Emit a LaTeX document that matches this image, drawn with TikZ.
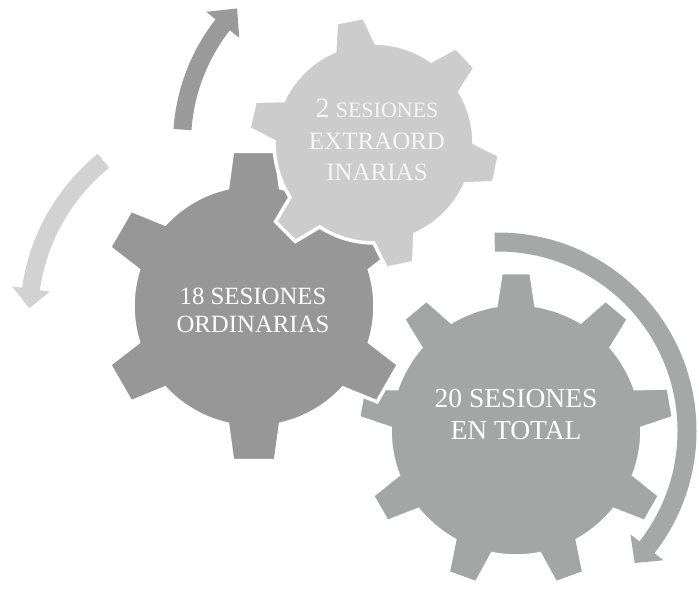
\documentclass[tikz,border=0pt]{standalone}
\usepackage{fontspec}
\setmainfont{Liberation Serif}
\definecolor{bigc}{RGB}{164,166,166}
\definecolor{darkc}{RGB}{151,151,151}
\definecolor{lightc}{RGB}{204,204,204}
\definecolor{toparr}{RGB}{154,154,154}
\definecolor{leftarr}{RGB}{210,210,210}
\definecolor{rightarr}{RGB}{166,168,168}
\begin{document}
\begin{tikzpicture}[x=1pt,y=1pt,
  gearline/.style={draw=white, line width=3.5pt, line join=miter},
  gtext/.style={text=white, align=center, inner sep=0pt}]
\useasboundingbox (0,0) rectangle (699,589);

% big gear (9 teeth)
\begin{scope}[shift={(516,159)}]
  \pgfmathsetmacro\gearA{asin(20/126)}
  \pgfmathsetmacro\gearB{asin(15/158)}
  \path[fill=bigc, gearline] ({90-\gearA}:126)
    \foreach \a in {90,130,...,410} {
      -- ({\a-\gearB}:158) -- ({\a+\gearB}:158) -- ({\a+\gearA}:126)
      arc[start angle={\a+\gearA}, end angle={\a+40-\gearA}, radius=126] } -- cycle;
\end{scope}

% dark gear (6 teeth)
\begin{scope}[shift={(254,283)}]
  \pgfmathsetmacro\gearA{asin(26.5/121)}
  \pgfmathsetmacro\gearB{asin(21.5/156)}
  \path[fill=darkc, gearline] ({90-\gearA}:121)
    \foreach \a in {90,150,...,390} {
      -- ({\a-\gearB}:156) -- ({\a+\gearB}:156) -- ({\a+\gearA}:121)
      arc[start angle={\a+\gearA}, end angle={\a+60-\gearA}, radius=121] } -- cycle;
\end{scope}

% light gear (6 teeth)
\begin{scope}[shift={(374,446)}]
  \pgfmathsetmacro\gearA{asin(21/100)}
  \pgfmathsetmacro\gearB{asin(14/126)}
  \path[fill=lightc, gearline] ({-135-\gearA}:100)
    \foreach \a/\b in {-135/-78,-78/-12,-12/43,43/101,101/167,167/225} {
      -- ({\a-\gearB}:126) -- ({\a+\gearB}:126) -- ({\a+\gearA}:100)
      arc[start angle={\a+\gearA}, end angle={\b-\gearA}, radius=100] } -- cycle;
\end{scope}

% top arrow
\begin{scope}[shift={(374,446)}]
  \fill[toparr] (176:201) arc[start angle=176, end angle=142, radius=201]
    -- (142:213) -- (135.5:192) -- (142:171) -- (142:183)
    arc[start angle=142, end angle=176, radius=183] -- cycle;
\end{scope}

% left arrow
\begin{scope}[shift={(230,272)}]
  \fill[leftarr] (129:210) arc[start angle=129, end angle=172, radius=210]
    -- (172:220) -- (177.5:201) -- (172:182) -- (172:192)
    arc[start angle=172, end angle=129, radius=192] -- cycle;
\end{scope}

% right arrow
\begin{scope}[shift={(498,158)}]
  \fill[rightarr] (91:198.5) arc[start angle=91, end angle=-38, radius=198.5]
    -- (-38:210) -- (-44:190) -- (-38:168) -- (-38:179.5)
    arc[start angle=-38, end angle=91, radius=179.5] -- cycle;
\end{scope}

\node[gtext, font=\fontsize{27.5}{32}\selectfont] (total) at (516,175) {20 SESIONES\\EN TOTAL};
\node[gtext, font=\fontsize{24.8}{28}\selectfont] (ord) at (253,279) {18 SESIONES\\ORDINARIAS};
\node[gtext, text=white!96!black, font=\fontsize{25}{31.5}\selectfont] (extra) at (377,449)
  {{\fontsize{28}{31.5}\selectfont 2} {\fontsize{22}{31.5}\selectfont SESIONES}\\EXTRAORD\\INARIAS};
\end{tikzpicture}
\end{document}
